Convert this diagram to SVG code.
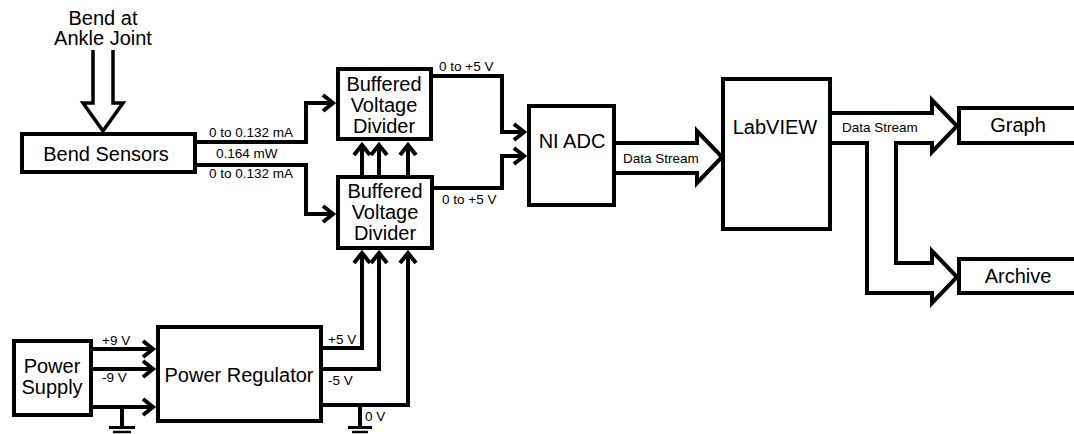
<svg xmlns="http://www.w3.org/2000/svg" width="1074" height="434" viewBox="0 0 1074 434">
<defs>
<style>
.box{fill:#fff;stroke:#000;stroke-width:4}
.w{fill:none;stroke:#000;stroke-width:4;stroke-linejoin:miter}
.ha{fill:#fff;stroke:#000;stroke-width:4;stroke-linejoin:miter}
.t{font-family:"Liberation Sans",Arial,sans-serif;font-size:20px;fill:#000;text-anchor:middle}
.s{font-family:"Liberation Sans",Arial,sans-serif;font-size:13.5px;fill:#000}
.g{stroke:#000;fill:none}
</style>
<marker id="chev" markerUnits="userSpaceOnUse" markerWidth="20" markerHeight="20" refX="12" refY="10" orient="auto" overflow="visible">
<path d="M2,2 L12,10 L2,18" fill="none" stroke="#000" stroke-width="4" stroke-linejoin="miter"/>
</marker>
</defs>
<rect width="1074" height="434" fill="#fff"/>

<g id="connectors">
<path class="ha" d="M93,50 V103 H83 L103,131 L123,103 H113 V50" style="stroke-width:3.5"/>
<path class="w" d="M197,142 H306 V103 H333" marker-end="url(#chev)"/>
<path class="w" d="M197,165 H306 V214 H333" marker-end="url(#chev)"/>
<path class="w" d="M362,175 V145" marker-end="url(#chev)"/>
<path class="w" d="M379,175 V145" marker-end="url(#chev)"/>
<path class="w" d="M408,175 V145" marker-end="url(#chev)"/>
<path class="w" d="M431,76 H502 V132 H524" marker-end="url(#chev)"/>
<path class="w" d="M432,188 H502 V156 H524" marker-end="url(#chev)"/>
<path class="ha" d="M614,143 H697 V131 L722,157 L697,183 V173 H614"/>
<path class="ha" d="M830,113 H932 V100 L957,126 L932,152 V143 H896 V263 H932 V251 L957,277 L932,303 V293 H867 V143 H830"/>
<path class="w" d="M91,349 H153" marker-end="url(#chev)"/>
<path class="w" d="M91,369 H153" marker-end="url(#chev)"/>
<path class="w" d="M91,407 H153" marker-end="url(#chev)"/>
<path class="w" d="M321,348 H362 V253" marker-end="url(#chev)"/>
<path class="w" d="M321,369 H379 V253" marker-end="url(#chev)"/>
<path class="w" d="M321,405 H408 V253" marker-end="url(#chev)"/>
<path class="g" d="M122,407 V426" stroke-width="4"/>
<path class="g" d="M109,427.5 H135" stroke-width="3"/>
<path class="g" d="M113,432 H131" stroke-width="2.5"/>
<path class="g" d="M360,405 V426" stroke-width="4"/>
<path class="g" d="M348,427.5 H372" stroke-width="3"/>
<path class="g" d="M352,432 H368" stroke-width="2.5"/>
<text class="s" x="209" y="137">0 to 0.132 mA</text>
<text class="s" x="216" y="158">0.164 mW</text>
<text class="s" x="209" y="178">0 to 0.132 mA</text>
<text class="s" x="439" y="71">0 to +5 V</text>
<text class="s" x="442" y="204">0 to +5 V</text>
<text class="s" x="623" y="163">Data Stream</text>
<text class="s" x="842" y="132">Data Stream</text>
<text class="s" x="102" y="345">+9 V</text>
<text class="s" x="102" y="382">-9 V</text>
<text class="s" x="328" y="344">+5 V</text>
<text class="s" x="328" y="385">-5 V</text>
<text class="s" x="365" y="421">0 V</text>
</g>

<g id="bend-label">
<text class="t" x="103" y="25">Bend at</text>
<text class="t" x="103" y="45">Ankle Joint</text>
</g>

<g id="bend-sensors">
<rect class="box" x="22" y="134" width="173" height="38"/>
<text class="t" x="106" y="161">Bend Sensors</text>
</g>

<g id="bvd-top">
<rect class="box" x="338" y="69" width="93" height="70"/>
<text class="t" x="384" y="91">Buffered</text>
<text class="t" x="384" y="112">Voltage</text>
<text class="t" x="384" y="133">Divider</text>
</g>

<g id="bvd-bottom">
<rect class="box" x="338" y="177" width="94" height="71"/>
<text class="t" x="385" y="198">Buffered</text>
<text class="t" x="385" y="219">Voltage</text>
<text class="t" x="385" y="240">Divider</text>
</g>

<g id="ni-adc">
<rect class="box" x="529" y="106" width="85" height="99"/>
<text class="t" x="572" y="148">NI ADC</text>
</g>

<g id="labview">
<rect class="box" x="723" y="79" width="107" height="150"/>
<text class="t" x="775" y="134">LabVIEW</text>
</g>

<g id="graph">
<rect class="box" x="959" y="108" width="200" height="35"/>
<text class="t" x="1018" y="132">Graph</text>
</g>

<g id="archive">
<rect class="box" x="959" y="259" width="200" height="34"/>
<text class="t" x="1018" y="283">Archive</text>
</g>

<g id="power-supply">
<rect class="box" x="14" y="341" width="77" height="74"/>
<text class="t" x="52" y="373">Power</text>
<text class="t" x="52" y="394">Supply</text>
</g>

<g id="power-regulator">
<rect class="box" x="158" y="327" width="163" height="94"/>
<text class="t" x="239" y="382">Power Regulator</text>
</g>
</svg>
